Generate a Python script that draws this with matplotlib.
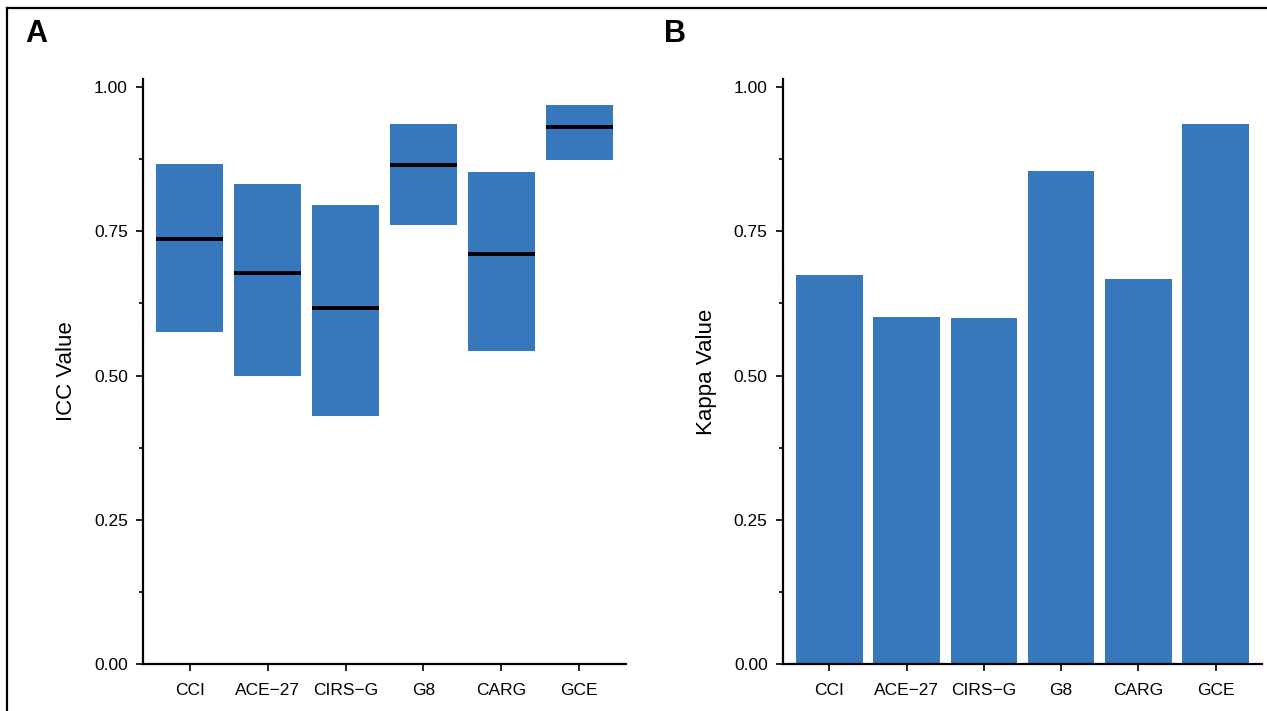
import numpy as np
import matplotlib.pyplot as plt
from matplotlib.ticker import MultipleLocator
from matplotlib.lines import Line2D

plt.rcParams['font.family'] = ['Liberation Sans', 'DejaVu Sans']

tools = ['CCI', 'ACE\u221227', 'CIRS\u2212G', 'G8', 'CARG', 'GCE']
icc_low = [0.575, 0.499, 0.430, 0.761, 0.542, 0.873]
icc_high = [0.867, 0.832, 0.795, 0.936, 0.853, 0.969]
icc_est = [0.737, 0.678, 0.617, 0.865, 0.711, 0.931]
kappa = [0.675, 0.602, 0.599, 0.854, 0.667, 0.936]

blue = '#3777BB'
width = 0.86

fig = plt.figure(figsize=(12.67, 7.11), dpi=100)
ax1 = fig.add_axes([0.1129, 0.0661, 0.3812, 0.8229])
ax2 = fig.add_axes([0.618, 0.0661, 0.378, 0.8229])

x = np.arange(len(tools))
lo = np.array(icc_low)
hi = np.array(icc_high)
ax1.bar(x, hi - lo, bottom=lo, width=width, color=blue, zorder=2)
ax1.hlines(icc_est, x - width / 2, x + width / 2, colors='black', linewidth=2.8, zorder=3)
ax1.set_ylabel('ICC Value', fontsize=16, labelpad=12)

ax2.bar(x, kappa, width=width, color=blue, zorder=2)
ax2.set_ylabel('Kappa Value', fontsize=16, labelpad=12)

for ax in (ax1, ax2):
    ax.set_xlim(-0.6, 5.6)
    ax.set_ylim(0, 1.014)
    ax.set_xticks(x)
    ax.set_xticklabels(tools)
    ax.yaxis.set_major_locator(MultipleLocator(0.25))
    ax.yaxis.set_minor_locator(MultipleLocator(0.125))
    ax.set_yticks([0, 0.25, 0.5, 0.75, 1.0])
    ax.set_yticklabels(['0.00', '0.25', '0.50', '0.75', '1.00'])
    for s in ('top', 'right'):
        ax.spines[s].set_visible(False)
    for s in ('left', 'bottom'):
        ax.spines[s].set_linewidth(1.6)
    ax.tick_params(axis='both', which='major', length=5, width=1.2, labelsize=12.5, pad=6)
    ax.tick_params(axis='y', which='minor', length=3, width=1.2)
    ax.tick_params(axis='x', pad=9)

# outer frame (top and left edges)
fig.add_artist(Line2D([7 / 1267, 1], [1 - 8 / 711, 1 - 8 / 711], color='black', linewidth=1.6, transform=fig.transFigure))
fig.add_artist(Line2D([7 / 1267, 7 / 1267], [0, 1 - 8 / 711], color='black', linewidth=1.6, transform=fig.transFigure))

fig.text(25 / 1267, 1 - 34 / 711, 'A', fontsize=22, fontweight='bold', va='center', ha='left')
fig.text(664 / 1267, 1 - 34 / 711, 'B', fontsize=22, fontweight='bold', va='center', ha='left')

fig.savefig('out.png', dpi=100)
